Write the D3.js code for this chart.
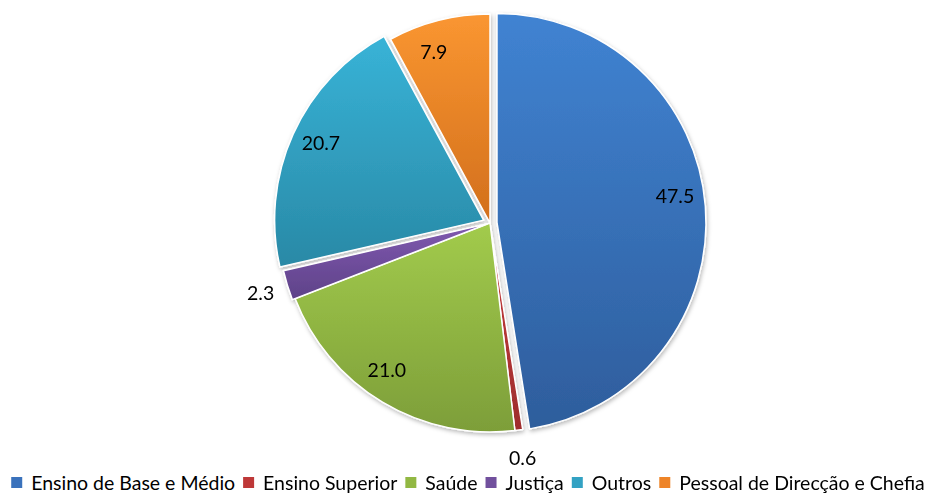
<!DOCTYPE html>
<html><head><meta charset="utf-8">
<script src="https://cdn.jsdelivr.net/npm/d3@7"></script>
<style>body{margin:0;background:#fff}svg{display:block}</style>
</head><body>
<svg id="c" width="938" height="497"></svg>
<script>
const categories = ["Ensino de Base e Médio","Ensino Superior","Saúde","Justiça","Outros","Pessoal de Direcção e Chefia"];
const values = [47.5, 0.6, 21.0, 2.3, 20.7, 7.9];
const valueLabels = ["47.5","0.6","21.0","2.3","20.7","7.9"];

// styling (kept separate from data)
const colorsTop    = ["#4083D2","#C93E3E","#A2CB4C","#8059B0","#38B3D7","#FA9631"];
const colorsBottom = ["#2E5D9C","#9E2D2D","#7D9E39","#5E4288","#2989A6","#D26F1C"];
const legendColors = ["#3A72BC","#BE3838","#92B843","#71509D","#33A2C3","#EE8428"];
const explode = [7, 0, 0, 3, 7, 0];
const labelNudgeDeg = [-4, 0, 4, 0, 1, -4];

const W = 938, H = 497, cx = 490, cy = 223, R = 209;
const FONT = "Lato, 'Open Sans', sans-serif";

const svg = d3.select("#c");
const defs = svg.append("defs");

// calibrate font size so legend text width matches reference
const probe = svg.append("text").attr("font-family", FONT).attr("font-size", 20).text(categories[0]);
const w20 = probe.node().getComputedTextLength();
probe.remove();
const fs = Math.min(22, 20 * 204 / w20);

const f = defs.append("filter").attr("id","sh").attr("x","-10%").attr("y","-10%").attr("width","120%").attr("height","120%");
f.append("feDropShadow").attr("dx",1).attr("dy",2).attr("stdDeviation",2).attr("flood-color","#000").attr("flood-opacity",0.28);

values.forEach((v,i) => {
  const g = defs.append("linearGradient").attr("id","g"+i).attr("x1",0).attr("y1",0).attr("x2",0).attr("y2",1);
  g.append("stop").attr("offset","0%").attr("stop-color",colorsTop[i]);
  g.append("stop").attr("offset","100%").attr("stop-color",colorsBottom[i]);
});

const pie = d3.pie().sort(null).value(d => d)(values);
const arc = d3.arc().innerRadius(0).outerRadius(R);

const pieG = svg.append("g").attr("transform", `translate(${cx},${cy})`).attr("filter","url(#sh)");
pieG.selectAll("path").data(pie).join("path")
  .attr("d", arc)
  .attr("transform", (d,i) => {
    const m = (d.startAngle + d.endAngle) / 2;
    return `translate(${explode[i]*Math.sin(m)},${-explode[i]*Math.cos(m)})`;
  })
  .attr("fill", (d,i) => `url(#g${i})`)
  .attr("stroke", "#fff").attr("stroke-width", 1.5).attr("stroke-linejoin","round");

function labelPos(d, i) {
  const mid = (d.startAngle + d.endAngle)/2;
  const m = mid + labelNudgeDeg[i]*Math.PI/180;
  const r = values[i] < 5 ? 237 : 180;
  return [explode[i]*Math.sin(mid) + r*Math.sin(m), -explode[i]*Math.cos(mid) - r*Math.cos(m)];
}

const labG = svg.append("g").attr("transform", `translate(${cx},${cy})`);
labG.selectAll("text").data(pie).join("text")
  .attr("font-family", FONT).attr("font-size", fs).attr("fill", "#000")
  .attr("text-anchor","middle").attr("dy","0.35em")
  .attr("x", (d,i) => labelPos(d,i)[0])
  .attr("y", (d,i) => labelPos(d,i)[1])
  .text((d,i) => valueLabels[i]);

// legend
const leg = svg.append("g");
const items = leg.selectAll("g").data(categories).join("g");
items.append("rect").attr("x",0).attr("width",11).attr("height",11).attr("y",477).attr("fill",(d,i)=>legendColors[i]);
items.append("text").attr("font-family",FONT).attr("font-size",fs).attr("fill","#000")
  .attr("x",20).attr("y",490).text(d=>d);
let widths = [];
items.each(function(){ widths.push(this.querySelector("text").getComputedTextLength()); });
const itemW = widths.map(w => 20 + w);
const gap = 8;
const total = d3.sum(itemW) + gap*(itemW.length-1);
let x = 468 - total/2;
items.attr("transform",(d,i)=>{ const t=`translate(${x},0)`; x += itemW[i] + gap; return t; });
</script>
</body></html>
